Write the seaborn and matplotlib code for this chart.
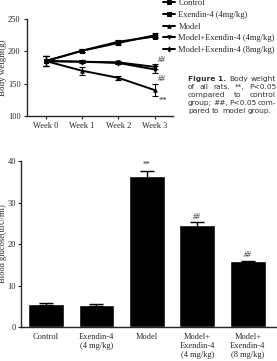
import numpy as np
import matplotlib
matplotlib.use("Agg")
import matplotlib.pyplot as plt
import seaborn as sns
import pandas as pd

# ---- data ----
weeks = ["Week 0", "Week 1", "Week 2", "Week 3"]
series_names = ["Control", "Exendin-4 (4mg/kg)", "Model",
                "Model+Exendin-4 (4mg/kg)", "Model+Exendin-4 (8mg/kg)"]
control = [185, 201, 215, 223]
exendin = [185, 201, 213, 225]
model = [185, 170, 159, 140]
mex4 = [185, 184, 183, 176]
mex8 = [185, 184, 182, 172]
control_err = [8, 2, 2, 2]
exendin_err = [8, 2, 3, 3]
model_err = [8, 6, 3, 9]
mex4_err = [8, 2, 2, 4]
mex8_err = [8, 2, 2, 5]

groups = ["Control", "Exendin-4\n(4 mg/kg)", "Model",
          "Model+\nExendin-4\n(4 mg/kg)", "Model+\nExendin-4\n(8 mg/kg)"]
glucose = [5.5, 5.4, 36.5, 24.5, 15.8]
glucose_err = [0.25, 0.25, 1.2, 0.7, 0.2]
glucose_marks = ["", "", "**", "##", "##"]

caption = [["Figure 1.", "Body", "weight"],
           ["of", "all", "rats.", "**,", "P<0.05"],
           ["compared", "to", "control"],
           ["group;", "##,", "P<0.05", "com-"],
           ["pared", "to", "model", "group."]]

sns.set_style("ticks")
plt.rcParams["font.family"] = ["Liberation Serif", "DejaVu Serif"]
plt.rcParams["axes.linewidth"] = 1.0

fig = plt.figure(figsize=(2.77, 3.61), dpi=100)

# ---- top: body weight ----
ax1 = fig.add_axes([0.097, 0.679, 0.527, 0.268])
vals = [control, exendin, model, mex4, mex8]
errs = [control_err, exendin_err, model_err, mex4_err, mex8_err]
rows = []
for name, v in zip(series_names, vals):
    for i, w in enumerate(weeks):
        rows.append({"series": name, "week": i, "weight": v[i]})
df = pd.DataFrame(rows)
markers = {"Control": "s", "Exendin-4 (4mg/kg)": "s", "Model": "^",
           "Model+Exendin-4 (4mg/kg)": "v", "Model+Exendin-4 (8mg/kg)": "d"}
sizes = {"Control": 2.5, "Exendin-4 (4mg/kg)": 3.5, "Model": 2.5,
         "Model+Exendin-4 (4mg/kg)": 2.5, "Model+Exendin-4 (8mg/kg)": 2.5}
for name, v, e in zip(series_names, vals, errs):
    sub = df[df["series"] == name]
    sns.lineplot(data=sub, x="week", y="weight", ax=ax1, color="black",
                 lw=1.4, marker=markers[name], markersize=sizes[name],
                 markeredgecolor="black", label=name)
    ax1.errorbar(range(len(weeks)), v, yerr=e, fmt="none", ecolor="black",
                 elinewidth=0.8, capsize=2, capthick=0.8)
ax1.set_xlim(-0.52, 3.5)
ax1.set_ylim(100, 250)
ax1.set_yticks([100, 150, 200, 250])
ax1.set_xticks(range(len(weeks)))
ax1.set_xticklabels(weeks)
ax1.set_xlabel("")
ax1.set_ylabel("Body weight(g)", fontsize=6.5)
ax1.yaxis.set_label_coords(-0.135, 0.5)
ax1.tick_params(labelsize=6, length=2.5, width=0.8, pad=2)
sns.despine(ax=ax1)
ax1.text(3.1, 180, "##", fontsize=5.5, style="italic", va="bottom")
ax1.text(3.08, 157, "##", fontsize=5.5, style="italic", va="center")
ax1.text(3.1, 124, "**", fontsize=6, va="center")
ax1.legend(loc="upper left", bbox_to_anchor=(0.93, 1.21), frameon=False,
           fontsize=6.15, handlelength=1.4, handletextpad=0.45,
           labelspacing=0.45, borderaxespad=0, borderpad=0)

# caption, justified between two x positions
x_left, x_right = 188 / 277, 276 / 277
fig.canvas.draw()
renderer = fig.canvas.get_renderer()
for k, words in enumerate(caption):
    y = 1 - (79 + 8.1 * k) / 361
    texts = []
    for w in words:
        t = fig.text(0, y, w, fontsize=5.4, family="DejaVu Sans", va="center",
                     color="#333333",
                     weight="bold" if w == "Figure 1." else "normal")
        texts.append(t)
    widths = [t.get_window_extent(renderer).width / fig.bbox.width for t in texts]
    last = k == len(caption) - 1
    if last:
        gap = 0.009
    else:
        gap = (x_right - x_left - sum(widths)) / max(len(words) - 1, 1)
    x = x_left
    for t, wd in zip(texts, widths):
        t.set_x(x)
        x += wd + gap

# ---- bottom: blood glucose ----
ax2 = fig.add_axes([0.075, 0.094, 0.925, 0.46])
gdf = pd.DataFrame({"group": groups, "glucose": glucose})
sns.barplot(data=gdf, x="group", y="glucose", ax=ax2, color="black",
            saturation=1, width=0.71)
ax2.errorbar(range(len(groups)), glucose, yerr=glucose_err, fmt="none",
             ecolor="black", elinewidth=1, capsize=5, capthick=1)
for i, (g, e, m) in enumerate(zip(glucose, glucose_err, glucose_marks)):
    if m:
        ax2.text(i, g + e + 0.4, m, ha="center", va="bottom", fontsize=5.5,
                 style="italic" if m == "##" else "normal")
ax2.set_xlim(-0.5, 4.58)
ax2.set_ylim(0, 40)
ax2.set_yticks([0, 10, 20, 30, 40])
ax2.set_xlabel("")
ax2.set_ylabel("Blood glucose(uIU/ml)", fontsize=6)
ax2.yaxis.set_label_coords(-0.055, 0.5)
ax2.tick_params(axis="y", labelsize=6, length=2.5, width=0.8, pad=1)
ax2.tick_params(axis="x", labelsize=6, length=0, pad=4)
sns.despine(ax=ax2)

fig.savefig("out.png", dpi=100)
